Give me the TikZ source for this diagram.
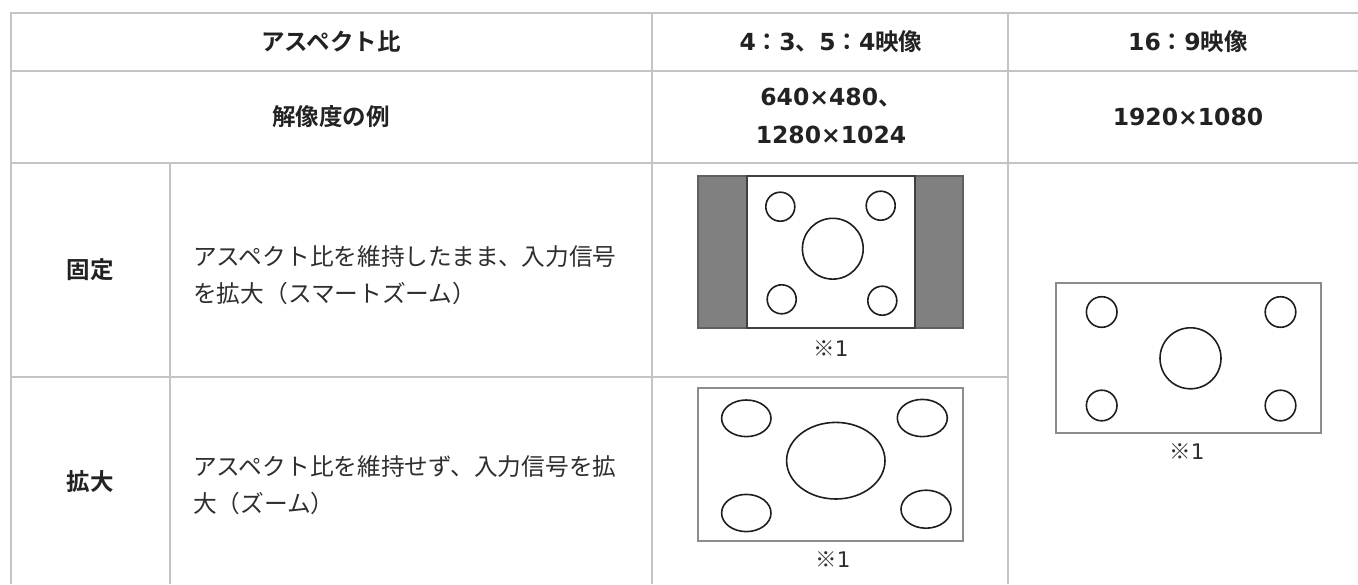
\documentclass[tikz,border=0pt]{standalone}
\usepackage{fontspec}
\setmainfont{Noto Sans CJK JP}[BoldFont={Noto Sans CJK JP Bold}]
\newfontfamily\numfont{DejaVu Sans}
\usepackage{tikz}
\usetikzlibrary{positioning}
\definecolor{rule}{HTML}{C4C4C4}
\definecolor{txt}{HTML}{222222}
\definecolor{txtb}{HTML}{2E2E2E}
\definecolor{ink}{HTML}{1E1E1E}
\definecolor{bar}{HTML}{808080}
\definecolor{frame}{HTML}{8C8C8C}
\newcommand{\nb}[1]{{\numfont\bfseries #1}}
\newcommand{\nr}[1]{{\numfont #1}}

\begin{document}
\begin{tikzpicture}[x=1pt,y=-1pt,
    grid/.style={draw=rule, line width=2pt},
    head/.style={font=\fontsize{23.5}{38}\selectfont\bfseries, text=txt, align=center, inner sep=0pt},
    body/.style={font=\fontsize{23.7}{37}\selectfont, text=txtb, align=left, inner sep=0pt, anchor=west},
    note/.style={font=\fontsize{21.5}{24}\selectfont, text=txtb, inner sep=0pt},
    spot/.style={draw=ink, line width=1.6pt}]
    \useasboundingbox (0,0) rectangle (1358,584);
    \draw[grid] (11,13) -- (1358,13);
    \draw[grid] (11,71) -- (1358,71);
    \draw[grid] (11,163) -- (1358,163);
    \draw[grid] (11,377) -- (1008,377);
    \draw[grid] (11,12) -- (11,584);
    \draw[grid] (170,163) -- (170,584);
    \draw[grid] (652,12) -- (652,584);
    \draw[grid] (1008,12) -- (1008,584);
    \node[head] (aspect) at (331,42) {アスペクト比};
    \node[head] (asp43) at (831,42) {\nb{4}：\nb{3}、\nb{5}：\nb{4}映像};
    \node[head] (asp169) at (1188,42) {\nb{16}：\nb{9}映像};
    \node[head] (resol) at (331,117) {解像度の例};
    \node[head] (res43) at (831,116) {\nb{640×480}、\\\nb{1280×1024}};
    \node[head] (res169) at (1188,117) {\nb{1920×1080}};
    \node[head] (fixed) at (90,270) {固定};
    \node[head] (zoom) at (90,482) {拡大};
    \node[body] (fixeddesc) at (193,275.5) {アスペクト比を維持したまま、入力信号\\を拡大（スマートズーム）};
    \node[body] (zoomdesc) at (193,485.5) {アスペクト比を維持せず、入力信号を拡\\大（ズーム）};
    \filldraw[fill=bar, draw=bar!75!black, line width=1.5pt] (698,176) rectangle (963,328);
    \filldraw[fill=white, draw=ink!85, line width=1.5pt] (747,176) rectangle (915,328);
    \draw[spot] (780.3,206.7) circle (14.5) (880.7,205.7) circle (14.5)
        (781.7,299.3) circle (14.5) (882.3,300.7) circle (14.5) (832.8,248.7) circle (30.4);
    \node[note] (notea) at (831,349) {※\nr{1}};
    \draw[draw=frame, line width=2pt] (697.5,387.5) rectangle (963,541);
    \draw[spot] (746.3,418.3) ellipse (24.7 and 18.3) (922.3,418) ellipse (25 and 18.6)
        (746.3,513) ellipse (24.7 and 18.6) (926,509.2) ellipse (25 and 19)
        (835.8,460.7) ellipse (49.2 and 38.3);
    \node[note] (noteb) at (833,560) {※\nr{1}};
    \draw[draw=frame, line width=2pt] (1056,282.5) rectangle (1321,432.5);
    \draw[spot] (1101.7,312) circle (15.3) (1280.5,312) circle (15.3)
        (1101.7,405.5) circle (15.3) (1280.5,405.5) circle (15.3) (1190.5,358.3) circle (30.5);
    \node[note] (notec) at (1187,452) {※\nr{1}};
\end{tikzpicture}
\end{document}
